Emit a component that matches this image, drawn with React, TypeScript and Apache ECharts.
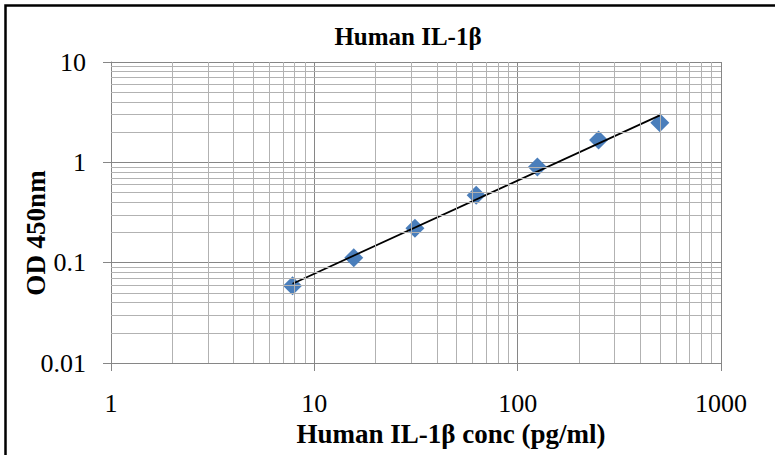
import React, { useEffect, useRef } from "react";
import * as echarts from "echarts";

const titleText = "Human IL-1β";
const xAxisName = "Human IL-1β conc (pg/ml)";
const yAxisName = "OD 450nm";

const concentrations = [7.8125, 15.625, 31.25, 62.5, 125, 250, 500];
const odValues = [0.059, 0.112, 0.22, 0.47, 0.9, 1.67, 2.48];

const xMin = 1;
const xMax = 1000;
const yMin = 0.01;
const yMax = 10;

const xDecades = [1, 10, 100];
const yDecades = [0.01, 0.1, 1];
const minorSteps = [2, 3, 4, 5, 6, 7, 8, 9];

const FONT = "Liberation Serif";

function powerFit(xs: number[], ys: number[]) {
  const lx = xs.map((v) => Math.log10(v));
  const ly = ys.map((v) => Math.log10(v));
  const n = lx.length;
  const mx = lx.reduce((a, b) => a + b, 0) / n;
  const my = ly.reduce((a, b) => a + b, 0) / n;
  let sxy = 0;
  let sxx = 0;
  for (let i = 0; i < n; i++) {
    sxy += (lx[i] - mx) * (ly[i] - my);
    sxx += (lx[i] - mx) * (lx[i] - mx);
  }
  const b = sxy / sxx;
  const a = my - b * mx;
  return (x: number) => Math.pow(10, a + b * Math.log10(x));
}

const fmt = (v: number) => String(Number(v.toPrecision(6)));

export default function App() {
  const ref = useRef<HTMLDivElement>(null);

  useEffect(() => {
    if (!ref.current) return;
    const chart = echarts.init(ref.current, null, { renderer: "svg" });

    const fit = powerFit(concentrations, odValues);
    const xFirst = concentrations[0];
    const xLast = concentrations[concentrations.length - 1];
    const trend = [
      [xFirst, fit(xFirst)],
      [xLast, fit(xLast)],
    ];

    const minorX: number[] = [];
    xDecades.forEach((d) => minorSteps.forEach((s) => minorX.push(d * s)));
    const minorY: number[] = [];
    yDecades.forEach((d) => minorSteps.forEach((s) => minorY.push(Number((d * s).toPrecision(6)))));

    const markData: any[] = [
      ...minorX.map((v) => ({ xAxis: v })),
      ...minorY.map((v) => ({ yAxis: v })),
    ];

    chart.setOption({
      animation: false,
      backgroundColor: "#ffffff",
      textStyle: { fontFamily: FONT },
      grid: { left: 111, top: 62, width: 610, height: 301, containLabel: false },
      xAxis: {
        type: "log",
        logBase: 10,
        min: xMin,
        max: xMax,
        axisLine: { show: true, lineStyle: { color: "#868686", width: 1 } },
        axisTick: { show: true, inside: false, length: 8, lineStyle: { color: "#868686" } },
        axisLabel: {
          margin: 27,
          fontSize: 26,
          color: "#000000",
          fontFamily: FONT,
          formatter: (v: number) => fmt(v),
        },
        splitLine: { show: true, lineStyle: { color: "#868686", width: 1 } },
      },
      yAxis: {
        type: "log",
        logBase: 10,
        min: yMin,
        max: yMax,
        axisLine: { show: true, lineStyle: { color: "#868686", width: 1 } },
        axisTick: { show: true, inside: false, length: 8, lineStyle: { color: "#868686" } },
        axisLabel: {
          margin: 25,
          fontSize: 26,
          color: "#000000",
          fontFamily: FONT,
          formatter: (v: number) => fmt(v),
        },
        splitLine: { show: true, lineStyle: { color: "#868686", width: 1 } },
      },
      graphic: [
        {
          type: "rect",
          shape: { x: 5.5, y: 5.5, width: 900, height: 600 },
          style: { fill: "none", stroke: "#000000", lineWidth: 2.5 },
          silent: true,
          z: 100,
        },
        {
          type: "text",
          x: 408,
          y: 36,
          style: {
            text: titleText,
            fontFamily: FONT,
            fontWeight: "bold",
            fontSize: 25,
            fill: "#000000",
            align: "center",
            verticalAlign: "middle",
          },
        },
        {
          type: "text",
          x: 451,
          y: 434,
          style: {
            text: xAxisName,
            fontFamily: FONT,
            fontWeight: "bold",
            fontSize: 27,
            fill: "#000000",
            align: "center",
            verticalAlign: "middle",
          },
        },
        {
          type: "text",
          x: 36,
          y: 233,
          rotation: Math.PI / 2,
          style: {
            text: yAxisName,
            fontFamily: FONT,
            fontWeight: "bold",
            fontSize: 27,
            fill: "#000000",
            align: "center",
            verticalAlign: "middle",
          },
        },
      ],
      series: [
        {
          type: "line",
          data: [],
          z: 1,
          silent: true,
          markLine: {
            silent: true,
            symbol: ["none", "none"],
            label: { show: false },
            emphasis: { disabled: true },
            lineStyle: { color: "#b2b2b2", width: 1, type: "solid", opacity: 1 },
            data: markData,
            animation: false,
          },
        },
        {
          type: "scatter",
          z: 3,
          symbol: "diamond",
          symbolSize: 19,
          itemStyle: { color: "#4a7ebb", opacity: 1 },
          emphasis: { disabled: true },
          data: concentrations.map((c, i) => [c, odValues[i]]),
        },
        {
          type: "line",
          z: 4,
          showSymbol: false,
          symbol: "none",
          lineStyle: { color: "#000000", width: 1.75 },
          emphasis: { disabled: true },
          data: trend,
        },
      ],
    });

    return () => chart.dispose();
  }, []);

  return (
    <div
      ref={ref}
      style={{ position: "absolute", left: 0, top: 0, width: 775, height: 455, overflow: "hidden" }}
    />
  );
}
